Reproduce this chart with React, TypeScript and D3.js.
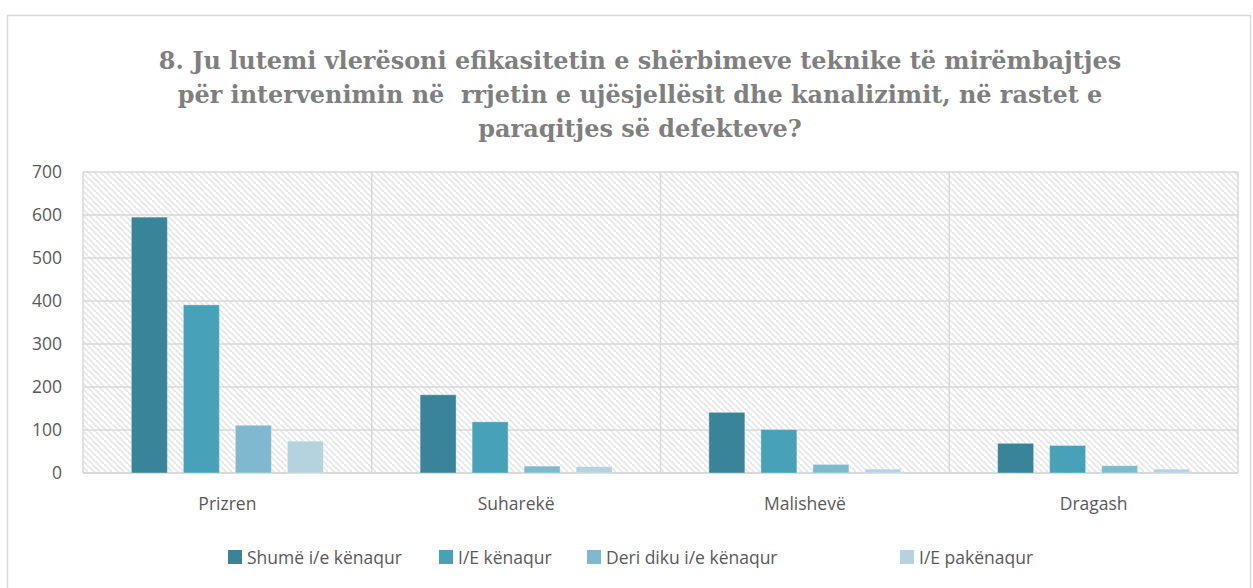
import React, { useEffect, useRef } from 'react';
import * as d3 from 'd3';

const categories = ['Prizren', 'Suharekë', 'Malishevë', 'Dragash'];
const seriesNames = ['Shumë i/e kënaqur', 'I/E kënaqur', 'Deri diku i/e kënaqur', 'I/E pakënaqur'];
const shume = [595, 182, 141, 69];
const kenaqur = [391, 119, 101, 64];
const deriDiku = [111, 16, 20, 17];
const pakenaqur = [74, 15, 9, 9];
const yTicks = [0, 100, 200, 300, 400, 500, 600, 700];
const titleLines = [
  '8. Ju lutemi vlerësoni efikasitetin e shërbimeve teknike të mirëmbajtjes',
  'për intervenimin në  rrjetin e ujësjellësit dhe kanalizimit, në rastet e',
  'paraqitjes së defekteve?',
];
const colors = ['#3A8499', '#47A1B9', '#7EB9CF', '#B4D3DE'];

const App = () => {
  const ref = useRef<SVGSVGElement | null>(null);

  useEffect(() => {
    if (!ref.current) return;
    const svg = d3.select(ref.current);
    svg.selectAll('*').remove();

    const W = 1253, H = 588;
    const plot = { left: 83, right: 1238, top: 172, bottom: 473 };
    const values = [shume, kenaqur, deriDiku, pakenaqur];

    // chart frame
    svg.append('rect').attr('width', W).attr('height', H).attr('fill', '#fff');
    svg.append('rect')
      .attr('x', 7.5).attr('y', 15.5)
      .attr('width', 1243).attr('height', 590)
      .attr('fill', '#fff').attr('stroke', '#D9D9D9').attr('stroke-width', 1.5);

    // hatch pattern
    const defs = svg.append('defs');
    const pat = defs.append('pattern')
      .attr('id', 'hatch').attr('patternUnits', 'userSpaceOnUse')
      .attr('width', 6).attr('height', 6);
    pat.append('path')
      .attr('d', 'M-1,-1 L7,7 M-4,2 L2,8 M4,-2 L8,2')
      .attr('stroke', '#E3E3E3').attr('stroke-width', 1.5);

    const x0 = d3.scaleBand().domain(categories).range([plot.left, plot.right]).padding(0);
    const x1 = d3.scaleBand().domain(seriesNames).range([0, x0.bandwidth()])
      .paddingInner(0.3077).paddingOuter(0.93);
    const y = d3.scaleLinear().domain([0, 700]).range([plot.bottom, plot.top]);

    svg.append('rect')
      .attr('x', plot.left).attr('y', plot.top)
      .attr('width', plot.right - plot.left).attr('height', plot.bottom - plot.top)
      .attr('fill', 'url(#hatch)');

    // gridlines
    svg.append('g').selectAll('line').data(yTicks).enter().append('line')
      .attr('x1', plot.left).attr('x2', plot.right)
      .attr('y1', d => y(d)).attr('y2', d => y(d))
      .attr('stroke', '#D9D9D9').attr('stroke-width', d => d === 0 ? 2 : 1.5);

    const seps = [...categories.map(c => x0(c) as number), plot.right];
    svg.append('g').selectAll('line').data(seps).enter().append('line')
      .attr('x1', d => d).attr('x2', d => d)
      .attr('y1', plot.top).attr('y2', plot.bottom)
      .attr('stroke', '#D9D9D9').attr('stroke-width', 1.5);

    // bars
    seriesNames.forEach((s, si) => {
      svg.append('g').selectAll('rect').data(values[si]).enter().append('rect')
        .attr('x', (d, i) => (x0(categories[i]) as number) + (x1(s) as number))
        .attr('y', d => y(d))
        .attr('width', x1.bandwidth())
        .attr('height', d => y(0) - y(d))
        .attr('fill', colors[si])
        .attr('stroke', '#ffffff').attr('stroke-opacity', 0.35).attr('stroke-width', 1);
    });

    // y labels
    svg.append('g').selectAll('text').data(yTicks).enter().append('text')
      .attr('x', 62).attr('y', d => y(d)).attr('dy', '0.35em')
      .attr('text-anchor', 'end')
      .style('font-family', '"Open Sans", sans-serif').style('font-size', '17.5px')
      .attr('fill', '#595959').text(d => d);

    // category labels
    svg.append('g').selectAll('text').data(categories).enter().append('text')
      .attr('x', d => (x0(d) as number) + x0.bandwidth() / 2).attr('y', 510)
      .attr('text-anchor', 'middle')
      .style('font-family', '"Open Sans", sans-serif').style('font-size', '17.5px')
      .attr('fill', '#595959').text(d => d);

    // title - size the font so line 1 spans the same width as in the original
    const tStarts = [157, 178, 487];
    const tBase = [69, 103, 137];
    const titleG = svg.append('g')
      .style('font-family', '"DejaVu Serif", serif').style('font-weight', 'bold')
      .attr('fill', '#7F7F7F');
    const probe = titleG.append('text').style('font-size', '20px').text(titleLines[0]);
    const len = (probe.node() as SVGTextElement).getComputedTextLength() || 960;
    probe.remove();
    const fs = Math.min(24, 20 * 963 / len);
    titleLines.forEach((t, i) => {
      titleG.append('text')
        .attr('x', 640).attr('y', tBase[i])
        .attr('text-anchor', 'middle')
        .style('white-space', 'pre')
        .style('font-size', `${fs}px`)
        .text(t);
    });

    // legend
    const legX = [228, 439, 587, 900];
    const leg = svg.append('g');
    seriesNames.forEach((s, i) => {
      leg.append('rect').attr('x', legX[i]).attr('y', 550).attr('width', 14).attr('height', 14)
        .attr('fill', colors[i]);
      leg.append('text').attr('x', legX[i] + 19).attr('y', 564)
        .style('font-family', '"Open Sans", sans-serif').style('font-size', '17.5px')
        .attr('fill', '#595959').text(s);
    });
  }, []);

  return (
    <div style={{ position: 'absolute', left: 0, top: 0 }}>
      <svg ref={ref} width={1253} height={588} />
    </div>
  );
};

export default App;
